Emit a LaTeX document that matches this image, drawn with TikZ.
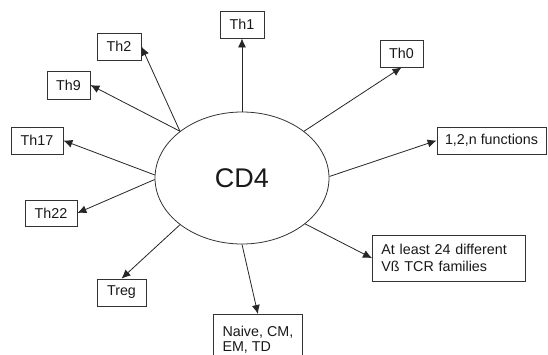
\documentclass[tikz,border=0pt]{standalone}
\usepackage{fontspec}
\setmainfont{Liberation Sans}
\usetikzlibrary{arrows.meta,shapes.geometric}
\tikzset{
  x=1pt, y=-1pt,
  lab/.style={font=\fontsize{14.3}{16}\selectfont},
  boxnode/.style={draw=black!80, line width=0.8pt, inner sep=0pt, lab, text=black!90},
  conn/.style={draw=black!85, line width=0.8pt, -{Latex[length=9pt,width=8pt]}},
}
\begin{document}
\begin{tikzpicture}
\useasboundingbox (0,0) rectangle (548,354);
\clip (0,0) rectangle (548,354);
\fill[white] (0,0) rectangle (548,354);
\node[draw=black!80, line width=0.8pt, ellipse, minimum width=174pt, minimum height=132pt, inner sep=0pt,
      font=\fontsize{27}{30}\selectfont, text=black!90] (cd4) at (242,178) {CD4};
\node[boxnode, minimum width=44pt, minimum height=27pt] (th1) at (242,24.5) {Th1};
\node[boxnode, minimum width=44pt, minimum height=27pt] (th2) at (119,46.5) {Th2};
\node[boxnode, minimum width=43pt, minimum height=28pt] (th9) at (68.5,85) {Th9};
\node[boxnode, minimum width=52pt, minimum height=27pt] (th17) at (37,140.5) {Th17};
\node[boxnode, minimum width=52pt, minimum height=26pt] (th22) at (51,213) {Th22};
\node[boxnode, minimum width=49pt, minimum height=27pt] (treg) at (121.5,292.5) {Treg};
\node[boxnode, minimum width=43pt, minimum height=27pt] (th0) at (401.5,53.5) {Th0};
\node[boxnode, minimum width=109pt, minimum height=27pt] (fn) at (491.5,140.5) {1,2,n functions};
\node[boxnode, anchor=north west, minimum width=89pt, minimum height=50pt, align=left,
      inner xsep=9pt, inner ysep=10pt, font=\fontsize{14.3}{15}\selectfont] (naive) at (213,314)
      {Naive, CM,\\EM, TD};
\node[boxnode, anchor=north west, align=left, text width=135pt, inner xsep=9pt, inner ysep=9pt,
      font=\fontsize{14.3}{17}\selectfont] (atl) at (372,235)
      {At least 24 different\\Vß TCR families};
\draw[conn] (cd4.90) -- (th1.south);
\draw[conn] (cd4.143) -- (th2.east);
\draw[conn] (cd4.143) -- (th9.east);
\draw[conn] (cd4.178) -- (th17.east);
\draw[conn] (cd4.181) -- (th22.east);
\draw[conn] (cd4.217) -- (treg.north);
\draw[conn] (cd4.270) -- (naive.north);
\draw[conn] (cd4.324) -- (atl.west);
\draw[conn] (cd4.1) -- (fn.west);
\draw[conn] (cd4.37) -- (th0.south);
\end{tikzpicture}
\end{document}
